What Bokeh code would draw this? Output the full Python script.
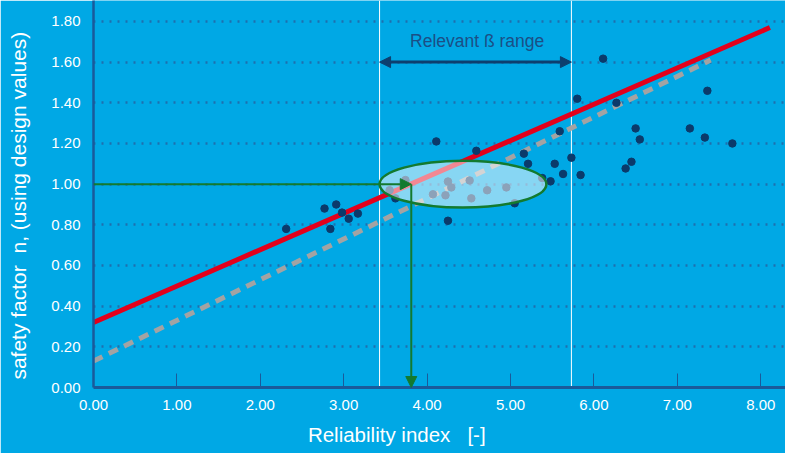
from bokeh.plotting import figure
from bokeh.models import (Range1d, FixedTicker, PrintfTickFormatter, Arrow,
                          NormalHead, Label)
from bokeh.embed import file_html
from bokeh.resources import INLINE

BG = "#00a8e5"
GREEN = "#137a2f"
NAVY = "#0b3a6b"
AXIS_BLUE = "#1a5a9a"
FONT = "Liberation Sans"
NB = "\u00a0"

# ---- data ----
beta = [2.31, 2.77, 2.84, 2.91, 2.98, 3.06, 3.17, 3.55, 3.62, 3.74,
        4.07, 4.11, 4.22, 4.25, 4.25, 4.29, 4.51, 4.53, 4.59, 4.72,
        4.95, 5.05, 5.16, 5.21, 5.38, 5.48, 5.53, 5.59, 5.63, 5.73,
        5.80, 5.84, 6.11, 6.27, 6.38, 6.45, 6.50, 6.55, 7.15, 7.33,
        7.36, 7.66]
n_sf = [0.78, 0.88, 0.78, 0.90, 0.86, 0.83, 0.855, 0.97, 0.93, 1.02,
        0.95, 1.21, 0.945, 1.013, 0.82, 0.984, 1.018, 0.93, 1.164, 0.97,
        0.984, 0.906, 1.15, 1.10, 1.03, 1.014, 1.10, 1.26, 1.05, 1.13,
        1.42, 1.045, 1.617, 1.40, 1.077, 1.11, 1.274, 1.22, 1.274, 1.229,
        1.459, 1.20]

red_x = [0.0, 8.11]
red_y = [0.32, 1.77]
gray_x = [0.0, 7.40]
gray_y = [0.13, 1.61]

range_lo = 3.43
range_hi = 5.73
range_arrow_y = 1.60
target_beta = 3.81
target_n = 1.00
ell_x = [4.43]
ell_y = [1.00]
ell_w = [2.00]
ell_h = [0.23]

x_ticks = [0, 1, 2, 3, 4, 5, 6, 7, 8]
y_ticks = [0.0, 0.2, 0.4, 0.6, 0.8, 1.0, 1.2, 1.4, 1.6, 1.8]

x_label = "Reliability index" + NB * 3 + "[-]"
y_label = "safety factor" + NB * 2 + "n, (using design values)"
range_text = "Relevant \u00df range"

# trailing non-breaking spaces shift the centred axis titles into place
x_label_padded = x_label + NB * 15
y_label_padded = y_label + NB * 4

# ---- figure ----
p = figure(width=785, height=453, x_range=Range1d(0, 8.297),
           y_range=Range1d(0, 1.903), output_backend="svg",
           toolbar_location=None, min_border_left=93, min_border_right=0,
           min_border_top=0, min_border_bottom=66)
p.background_fill_color = BG
p.border_fill_color = BG
p.outline_line_color = None

p.xgrid.visible = False
p.ygrid.grid_line_color = "#1f6fae"
p.ygrid.grid_line_dash = "2 6"
p.ygrid.grid_line_width = 2.5

p.xaxis.ticker = FixedTicker(ticks=x_ticks)
p.xaxis.formatter = PrintfTickFormatter(format="%.2f")
p.xaxis.axis_line_color = AXIS_BLUE
p.xaxis.axis_line_width = 3
p.xaxis.major_tick_in = 14
p.xaxis.major_tick_out = 0
p.xaxis.major_tick_line_color = AXIS_BLUE
p.xaxis.major_tick_line_width = 1
p.xaxis.minor_tick_line_color = None
p.xaxis.major_label_text_color = "white"
p.xaxis.major_label_text_font_size = "15px"
p.xaxis.major_label_text_font = FONT
p.xaxis.major_label_standoff = 12
p.xaxis.axis_label = x_label_padded
p.xaxis.axis_label_text_color = "white"
p.xaxis.axis_label_text_font_size = "20.5px"
p.xaxis.axis_label_text_font = FONT
p.xaxis.axis_label_text_font_style = "normal"
p.xaxis.axis_label_standoff = 10

p.yaxis.ticker = FixedTicker(ticks=y_ticks)
p.yaxis.formatter = PrintfTickFormatter(format="%.2f")
p.yaxis.axis_line_color = AXIS_BLUE
p.yaxis.axis_line_width = 2.5
p.yaxis.major_tick_in = 0
p.yaxis.major_tick_out = 0
p.yaxis.minor_tick_line_color = None
p.yaxis.major_label_text_color = "white"
p.yaxis.major_label_text_font_size = "15px"
p.yaxis.major_label_text_font = FONT
p.yaxis.major_label_standoff = 13
p.yaxis.axis_label = y_label_padded
p.yaxis.axis_label_text_color = "white"
p.yaxis.axis_label_text_font_size = "21px"
p.yaxis.axis_label_text_font = FONT
p.yaxis.axis_label_text_font_style = "normal"
p.yaxis.axis_label_standoff = 18

# ---- marks ----
p.segment(x0=[range_lo, range_hi], y0=[0, 0], x1=[range_lo, range_hi],
          y1=[1.903, 1.903], line_color="white", line_width=1)
p.line(gray_x, gray_y, line_color="#a3a3a3", line_width=5, line_dash="10 7")
p.line(red_x, red_y, line_color="#e3001b", line_width=5)
p.scatter(beta, n_sf, size=7.5, color=NAVY)
p.ellipse(x=ell_x, y=ell_y, width=ell_w, height=ell_h, fill_color="white",
          fill_alpha=0.53, line_color=GREEN, line_width=2.5)

p.add_layout(Arrow(x_start=0, y_start=target_n, x_end=target_beta, y_end=target_n,
                   line_color=GREEN, line_width=2,
                   end=NormalHead(size=11, fill_color=GREEN, line_color=GREEN)))
p.add_layout(Arrow(x_start=target_beta, y_start=target_n, x_end=target_beta, y_end=0.0,
                   line_color=GREEN, line_width=2,
                   end=NormalHead(size=11, fill_color=GREEN, line_color=GREEN)))
p.add_layout(Arrow(x_start=range_lo, y_start=range_arrow_y, x_end=range_hi,
                   y_end=range_arrow_y, line_color="#0d3f6f", line_width=3,
                   start=NormalHead(size=11, fill_color="#0d3f6f", line_color="#0d3f6f"),
                   end=NormalHead(size=11, fill_color="#0d3f6f", line_color="#0d3f6f")))
p.add_layout(Label(x=4.60, y=1.702, text=range_text, text_align="center",
                   text_baseline="middle", text_font_size="17.5px",
                   text_color="#1b4f86", text_font=FONT))

open("out.html", "w").write(file_html(p, INLINE))
